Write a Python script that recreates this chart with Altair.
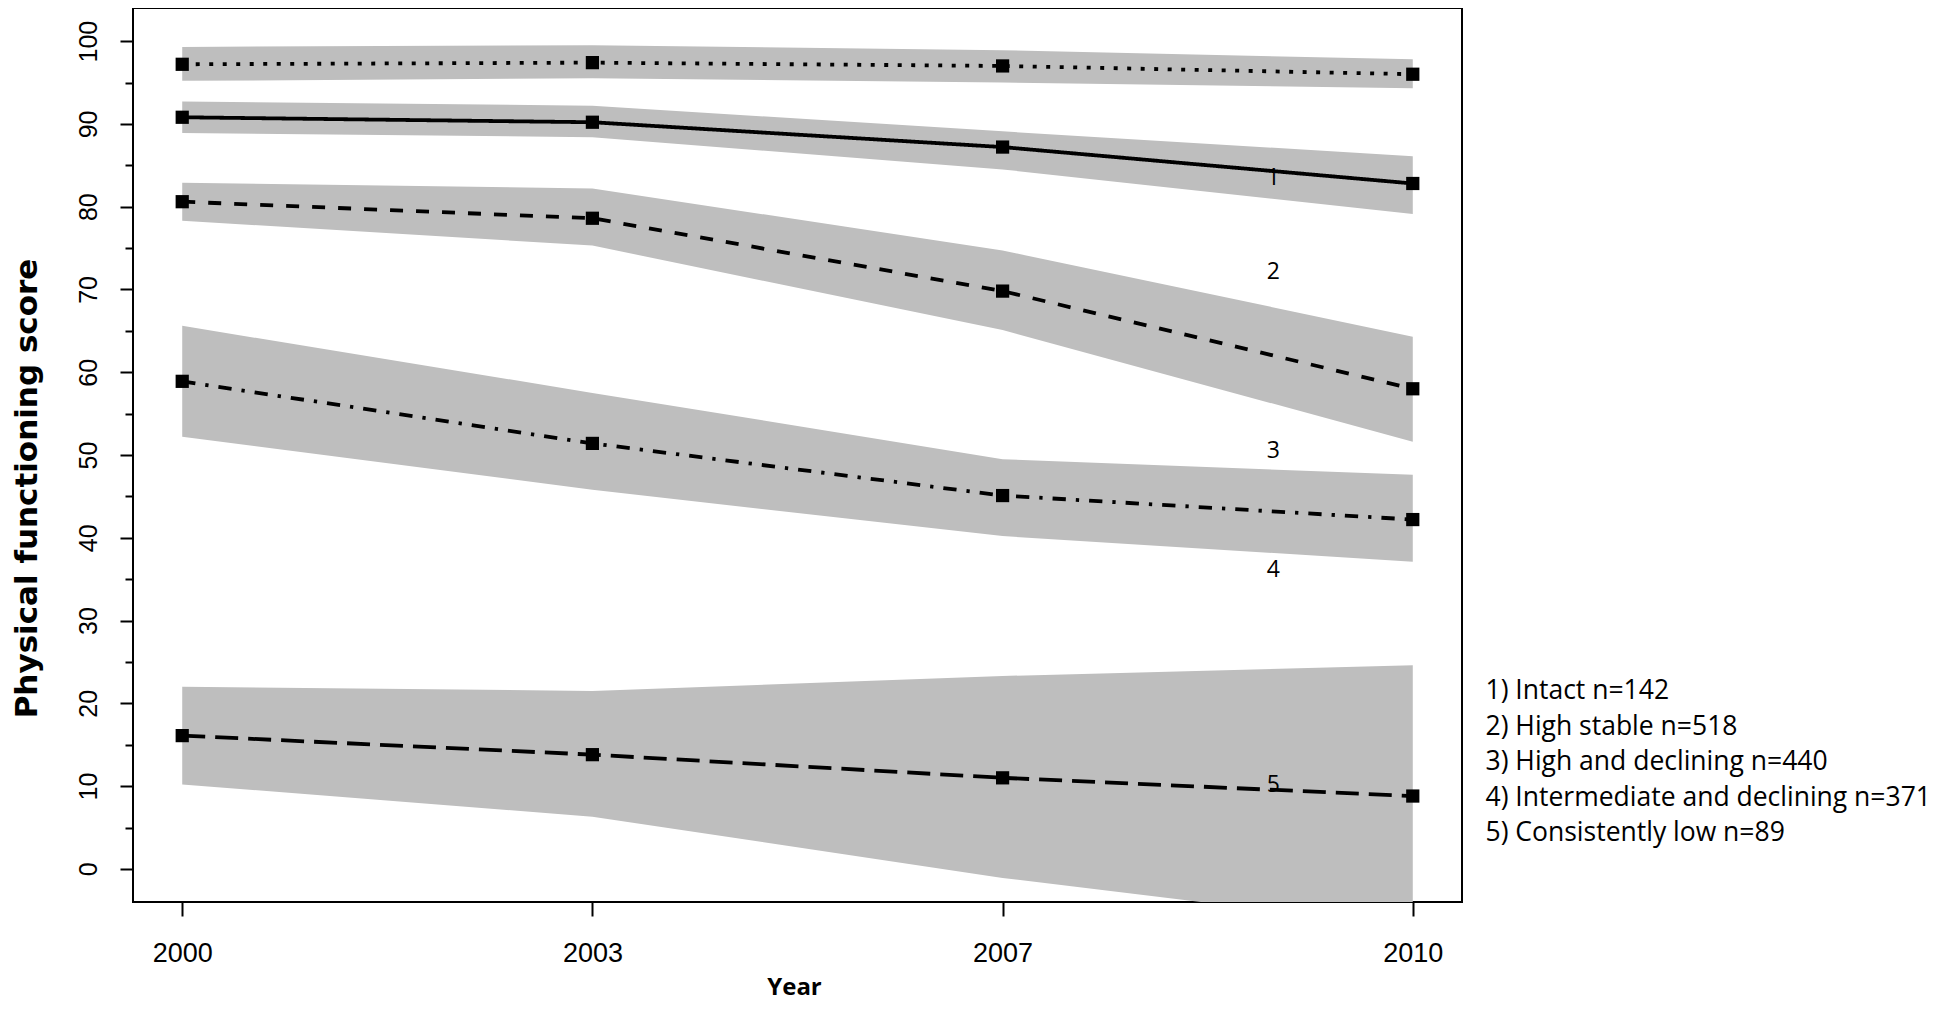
import altair as alt
import pandas as pd

# ---- data ----
years = ["2000", "2003", "2007", "2010"]
groups = [
    "1) Intact n=142",
    "2) High stable n=518",
    "3) High and declining n=440",
    "4) Intermediate and declining n=371",
    "5) Consistently low n=89",
]

intact_mean = [97.2, 97.4, 97.0, 96.0]
intact_low = [95.2, 95.5, 95.0, 94.3]
intact_high = [99.3, 99.5, 98.9, 97.8]

stable_mean = [90.8, 90.2, 87.2, 82.8]
stable_low = [88.9, 88.4, 84.5, 79.1]
stable_high = [92.7, 92.2, 89.1, 86.1]

highdecl_mean = [80.6, 78.6, 69.8, 58.0]
highdecl_low = [78.3, 75.3, 65.1, 51.6]
highdecl_high = [82.9, 82.2, 74.7, 64.3]

interm_mean = [58.9, 51.4, 45.1, 42.2]
interm_low = [52.2, 45.8, 40.2, 37.1]
interm_high = [65.6, 57.5, 49.5, 47.6]

low_mean = [16.1, 13.8, 11.0, 8.8]
low_low = [10.2, 6.3, -1.1, -7.1]
low_high = [22.0, 21.5, 23.3, 24.6]

# in-plot curve labels
curve_labels = ["1", "2", "3", "4", "5"]
curve_label_x = [3.66, 3.66, 3.66, 3.66, 3.66]
curve_label_y = [83.5, 72.1, 50.5, 36.1, 10.1]

y_ticks = list(range(0, 101, 5))

# ---- build tables ----
series = [
    (intact_mean, intact_low, intact_high),
    (stable_mean, stable_low, stable_high),
    (highdecl_mean, highdecl_low, highdecl_high),
    (interm_mean, interm_low, interm_high),
    (low_mean, low_low, low_high),
]
rows = []
for g, (m, lo, hi) in zip(groups, series):
    for i, yr in enumerate(years):
        rows.append({"group": g, "pos": i + 1, "year": yr,
                     "mean": m[i], "low": lo[i], "high": hi[i]})
df = pd.DataFrame(rows)
lab_df = pd.DataFrame({"lab": curve_labels, "x": curve_label_x, "y": curve_label_y})

year_js = "[" + ",".join("'%s'" % y for y in years) + "]"

xscale = alt.Scale(domain=[0.88, 4.12], nice=False, zero=False)
yscale = alt.Scale(domain=[-4, 104], nice=False, zero=False)

x_axis = alt.Axis(
    values=[1, 2, 3, 4],
    labelExpr=year_js + "[datum.value - 1]",
    title="Year",
    titleFont="Open Sans", titleFontSize=24, titleFontWeight="bold",
    titleX=661, titleY=92, titleAlign="center", titleBaseline="alphabetic",
    labelFont="Liberation Sans", labelFontSize=27, labelPadding=24,
    tickSize=14, grid=False,
)
y_axis = alt.Axis(
    values=y_ticks,
    labelExpr="datum.value % 10 === 0 ? datum.label : ''",
    title="Physical functioning score",
    titleFont="DejaVu Sans", titleFontSize=31, titleFontWeight="bold",
    titleAngle=270, titleX=-106, titleY=480, titleAlign="center", titleBaseline="middle",
    labelFont="Liberation Sans", labelFontSize=25, labelAngle=270,
    labelAlign="center", labelBaseline="alphabetic", labelPadding=24,
    tickSize={"condition": {"test": "datum.value % 10 === 0", "value": 13}, "value": 8},
    grid=False,
)

base = alt.Chart(df)

bands = base.mark_area(color="#BEBEBE", opacity=1, clip=True).encode(
    x=alt.X("pos:Q", scale=xscale, axis=x_axis),
    y=alt.Y("low:Q", scale=yscale, axis=y_axis),
    y2="high:Q",
    detail="group:N",
)

texts = alt.Chart(lab_df).mark_text(font="Open Sans", fontSize=23, color="black").encode(
    x=alt.X("x:Q", scale=xscale),
    y=alt.Y("y:Q", scale=yscale),
    text="lab:N",
)

lines = base.mark_line(strokeWidth=3.8).encode(
    x=alt.X("pos:Q", scale=xscale),
    y=alt.Y("mean:Q", scale=yscale),
    strokeDash=alt.StrokeDash(
        "group:N",
        scale=alt.Scale(domain=groups,
                        range=[[4, 9.5], [1, 0], [13, 13], [13.3, 10, 3.3, 10], [23, 10]]),
        legend=None,
    ),
    color=alt.Color(
        "group:N",
        scale=alt.Scale(domain=groups, range=["black"] * 5),
        legend=alt.Legend(
            title=None, orient="none", legendX=1326, legendY=670,
            symbolSize=0, symbolOpacity=0, symbolStrokeWidth=0,
            labelFont="Open Sans", labelFontSize=26.5, labelColor="black",
            labelOffset=0, rowPadding=8.5, padding=0, labelLimit=700,
        ),
    ),
)

points = base.mark_point(shape="square", filled=True, size=175, color="black", opacity=1).encode(
    x=alt.X("pos:Q", scale=xscale),
    y=alt.Y("mean:Q", scale=yscale),
)

chart = (
    alt.layer(bands, texts, lines, points)
    .properties(
        width=1329, height=894,
        autosize=alt.AutoSizeParams(type="none"),
        padding={"left": 125, "top": 0, "right": 474, "bottom": 98},
        background="white",
    )
    .configure_view(stroke="black", strokeWidth=2)
    .configure_axis(domain=False, tickColor="black", tickWidth=2,
                    labelColor="black", titleColor="black")
)

chart.save("out.html", embed_options={"renderer": "svg", "actions": False})
